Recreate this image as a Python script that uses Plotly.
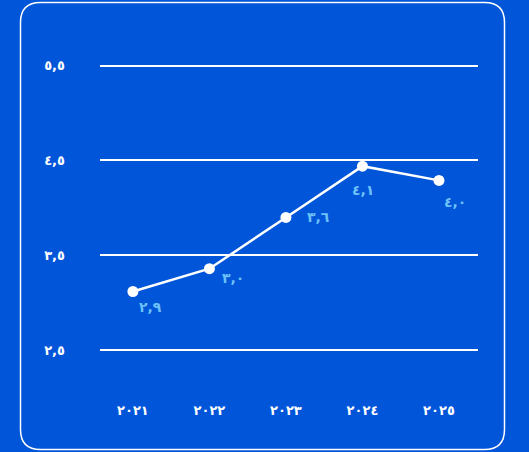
import plotly.graph_objects as go

years = ["٢٠٢١", "٢٠٢٢", "٢٠٢٣", "٢٠٢٤", "٢٠٢٥"]
values = [3.12, 3.36, 3.90, 4.44, 4.29]
value_labels = ["٢,٩", "٣,٠", "٣,٦", "٤,١", "٤,٠"]
y_ticks = [2.5, 3.5, 4.5, 5.5]
y_tick_labels = ["٢,٥", "٣,٥", "٤,٥", "٥,٥"]

# label offsets (pixels) per point
label_dx = [18, 24, 33, 1, 16]
label_dy = [-15, -9, 0, -24, -22]

W, H = 529, 452
L, R, T, B = 100, 478, 56, 395
BG = "#0155D9"
FONT = "DejaVu Sans"

xs = list(range(len(years)))

fig = go.Figure()
fig.add_trace(go.Scatter(
    x=xs, y=values, mode="lines+markers",
    line=dict(color="white", width=2.5),
    marker=dict(color="white", size=11),
    hoverinfo="skip", showlegend=False,
))

for i, (v, t) in enumerate(zip(values, value_labels)):
    fig.add_annotation(x=xs[i], y=v, text="<b>" + t + "</b>", showarrow=False,
                       xshift=label_dx[i], yshift=label_dy[i],
                       font=dict(family=FONT, size=14, color="#6CC1F7"))

# rounded card border
def px(xp):
    return (xp - L) / (R - L)

def py(yp):
    return (B - yp) / (B - T)

x0, x1, y0, y1, r = 20.5, 504.5, 2.5, 449.5, 20
path = (f"M {px(x0+r)} {py(y0)} L {px(x1-r)} {py(y0)} Q {px(x1)} {py(y0)} {px(x1)} {py(y0+r)} "
        f"L {px(x1)} {py(y1-r)} Q {px(x1)} {py(y1)} {px(x1-r)} {py(y1)} "
        f"L {px(x0+r)} {py(y1)} Q {px(x0)} {py(y1)} {px(x0)} {py(y1-r)} "
        f"L {px(x0)} {py(y0+r)} Q {px(x0)} {py(y0)} {px(x0+r)} {py(y0)} Z")
fig.add_shape(type="path", path=path, xref="paper", yref="paper",
              line=dict(color="white", width=1.5), layer="below")

fig.update_layout(
    width=W, height=H,
    margin=dict(l=L, r=W - R, t=T, b=H - B),
    paper_bgcolor=BG, plot_bgcolor=BG,
    font=dict(family=FONT, color="white"),
    xaxis=dict(range=[-0.43, 4.51], tickvals=xs,
               ticktext=["<b>" + y + "</b>" for y in years],
               showgrid=False, zeroline=False, showline=False,
               tickfont=dict(size=13, color="white"), ticklabelstandoff=6),
    yaxis=dict(range=[2.03, 5.6], tickvals=y_ticks,
               ticktext=["<b>" + t + "</b>" for t in y_tick_labels],
               showgrid=True, gridcolor="white", gridwidth=2,
               zeroline=False, showline=False,
               tickfont=dict(size=13, color="white"), ticklabelstandoff=34),
)

fig.write_html("out.html", config={"displayModeBar": False},
               post_script="document.body.style.margin='0';document.body.style.background='%s';" % BG)
